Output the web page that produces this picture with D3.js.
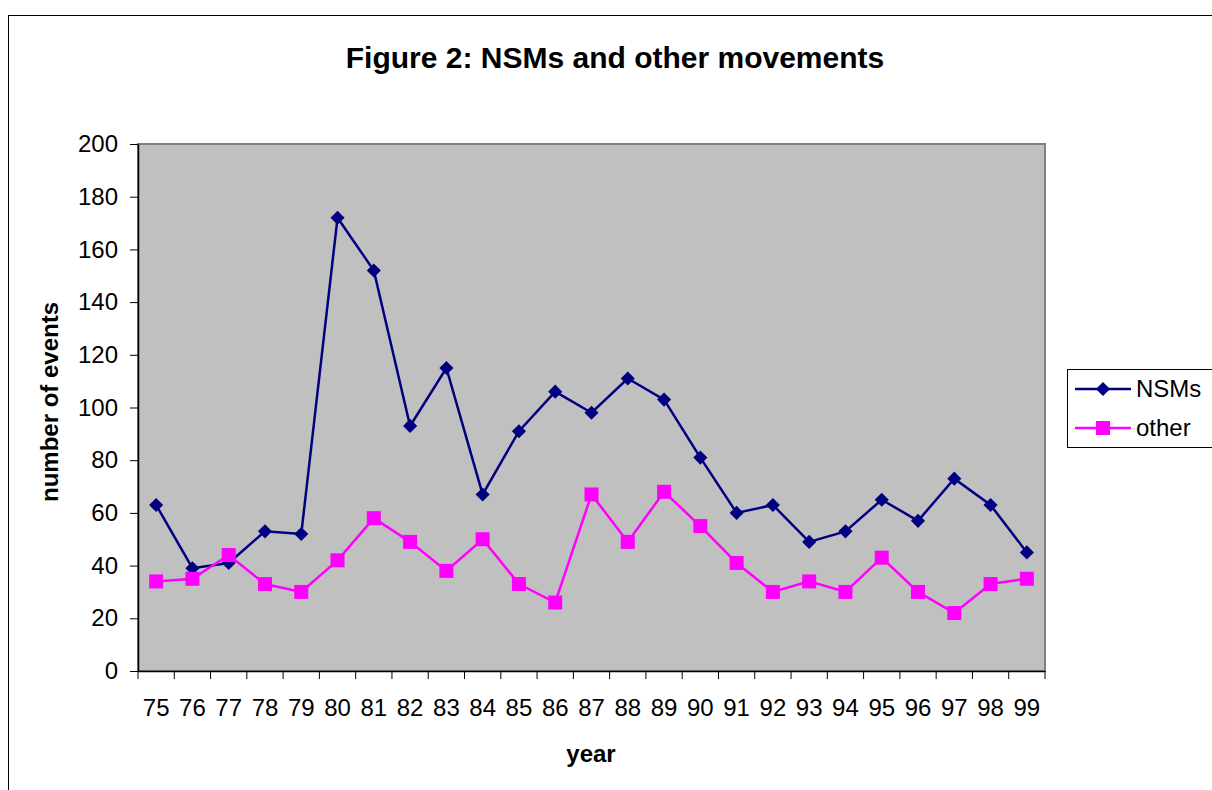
<!DOCTYPE html>
<html>
<head>
<meta charset="utf-8">
<script src="https://cdn.jsdelivr.net/npm/d3@7"></script>
<style>
body { margin: 0; background: #fff; }
svg { font-family: "Liberation Sans", Arial, sans-serif; }
</style>
</head>
<body>
<div id="chart"></div>
<script>
const width = 1212;
const height = 790;
var margin = { left: 138, top: 144, right: 1212 - 1045, bottom: 790 - 671 }

var years = ["75","76","77","78","79","80","81","82","83","84","85","86","87","88","89","90","91","92","93","94","95","96","97","98","99"]
var nsms = [63,39,41,53,52,172,152,93,115,67,91,106,98,111,103,81,60,63,49,53,65,57,73,63,45]
var other = [34,35,44,33,30,42,58,49,38,50,33,26,67,49,68,55,41,30,34,30,43,30,22,33,35]
var yTicks = [0,20,40,60,80,100,120,140,160,180,200]

var svg = d3.select("#chart").append("svg")
    .attr("width", width)
    .attr("height", height)

// outer chart border
svg.append("rect")
    .attr("x", 8.5).attr("y", 15.5)
    .attr("width", width + 10).attr("height", height)
    .attr("fill", "none").attr("stroke", "#000").attr("stroke-width", 1)

var x = d3.scaleBand().domain(years).range([margin.left, width - margin.right])
var y = d3.scaleLinear().domain([0, 200]).range([height - margin.bottom, margin.top])

// plot area
svg.append("rect")
    .attr("x", margin.left).attr("y", margin.top)
    .attr("width", width - margin.left - margin.right)
    .attr("height", height - margin.top - margin.bottom)
    .attr("fill", "#c0c0c0")
    .attr("stroke", "#808080").attr("stroke-width", 2)

var yAxis = svg.append("g")
    .attr("transform", "translate(" + margin.left + ",0)")
    .call(d3.axisLeft(y).tickValues(yTicks).tickSize(8).tickSizeOuter(0))
yAxis.select(".domain").attr("stroke", "#000").attr("stroke-width", 1.5)
yAxis.selectAll(".tick line").attr("stroke", "#000")
yAxis.selectAll("text").style("font-size", "24px").attr("fill", "#000").attr("x", -20)

var xAxis = svg.append("g")
    .attr("transform", "translate(0," + (height - margin.bottom) + ")")
    .call(d3.axisBottom(x).tickSize(0).tickSizeOuter(0))
xAxis.select(".domain").attr("stroke", "#000").attr("stroke-width", 1.5)
xAxis.selectAll("text").style("font-size", "24px").attr("fill", "#000").attr("dy", 0).attr("y", 45)

// x ticks between categories
svg.append("g").selectAll("line")
    .data(years.concat(["end"]))
    .enter().append("line")
    .attr("x1", (d, i) => margin.left + i * x.bandwidth())
    .attr("x2", (d, i) => margin.left + i * x.bandwidth())
    .attr("y1", height - margin.bottom)
    .attr("y2", height - margin.bottom + 8)
    .attr("stroke", "#000")

var cx = d => x(d) + x.bandwidth() / 2

var line = d3.line()
    .x((d, i) => cx(years[i]))
    .y(d => y(d))

svg.append("path").datum(nsms)
    .attr("d", line).attr("fill", "none")
    .attr("stroke", "#000080").attr("stroke-width", 2.5)

svg.append("path").datum(other)
    .attr("d", line).attr("fill", "none")
    .attr("stroke", "#ff00ff").attr("stroke-width", 2.5)

svg.append("g").selectAll("path")
    .data(nsms)
    .enter().append("path")
    .attr("d", d3.symbol().type(d3.symbolSquare).size(100))
    .attr("transform", (d, i) => "translate(" + cx(years[i]) + "," + y(d) + ") rotate(45)")
    .attr("fill", "#000080")

svg.append("g").selectAll("rect")
    .data(other)
    .enter().append("rect")
    .attr("x", (d, i) => cx(years[i]) - 7)
    .attr("y", d => y(d) - 7)
    .attr("width", 14).attr("height", 14)
    .attr("fill", "#ff00ff")

// titles
svg.append("text")
    .attr("x", 615).attr("y", 68)
    .attr("text-anchor", "middle")
    .style("font-size", "30px").style("font-weight", "bold")
    .text("Figure 2: NSMs and other movements")

svg.append("text")
    .attr("x", 591).attr("y", 762)
    .attr("text-anchor", "middle")
    .style("font-size", "24px").style("font-weight", "bold")
    .text("year")

svg.append("text")
    .attr("transform", "translate(58,402) rotate(-90)")
    .attr("text-anchor", "middle")
    .style("font-size", "24px").style("font-weight", "bold")
    .text("number of events")

// legend
var legendX = 1067, legendY = 369
svg.append("rect")
    .attr("x", legendX + 0.5).attr("y", legendY + 0.5)
    .attr("width", 160).attr("height", 78)
    .attr("fill", "#fff").attr("stroke", "#000")

var legendItems = [
    { name: "NSMs", color: "#000080", shape: "diamond" },
    { name: "other", color: "#ff00ff", shape: "square" }
]
legendItems.forEach((item, i) => {
    var ly = legendY + 20 + i * 39
    svg.append("line")
        .attr("x1", legendX + 8).attr("x2", legendX + 64)
        .attr("y1", ly).attr("y2", ly)
        .attr("stroke", item.color).attr("stroke-width", 2.5)
    if (item.shape === "diamond") {
        svg.append("path")
            .attr("d", d3.symbol().type(d3.symbolSquare).size(100))
            .attr("transform", "translate(" + (legendX + 36) + "," + ly + ") rotate(45)")
            .attr("fill", item.color)
    } else {
        svg.append("rect")
            .attr("x", legendX + 29).attr("y", ly - 7)
            .attr("width", 14).attr("height", 14)
            .attr("fill", item.color)
    }
    svg.append("text")
        .attr("x", legendX + 69).attr("y", ly + 8)
        .style("font-size", "24px")
        .text(item.name)
})
</script>
</body>
</html>
